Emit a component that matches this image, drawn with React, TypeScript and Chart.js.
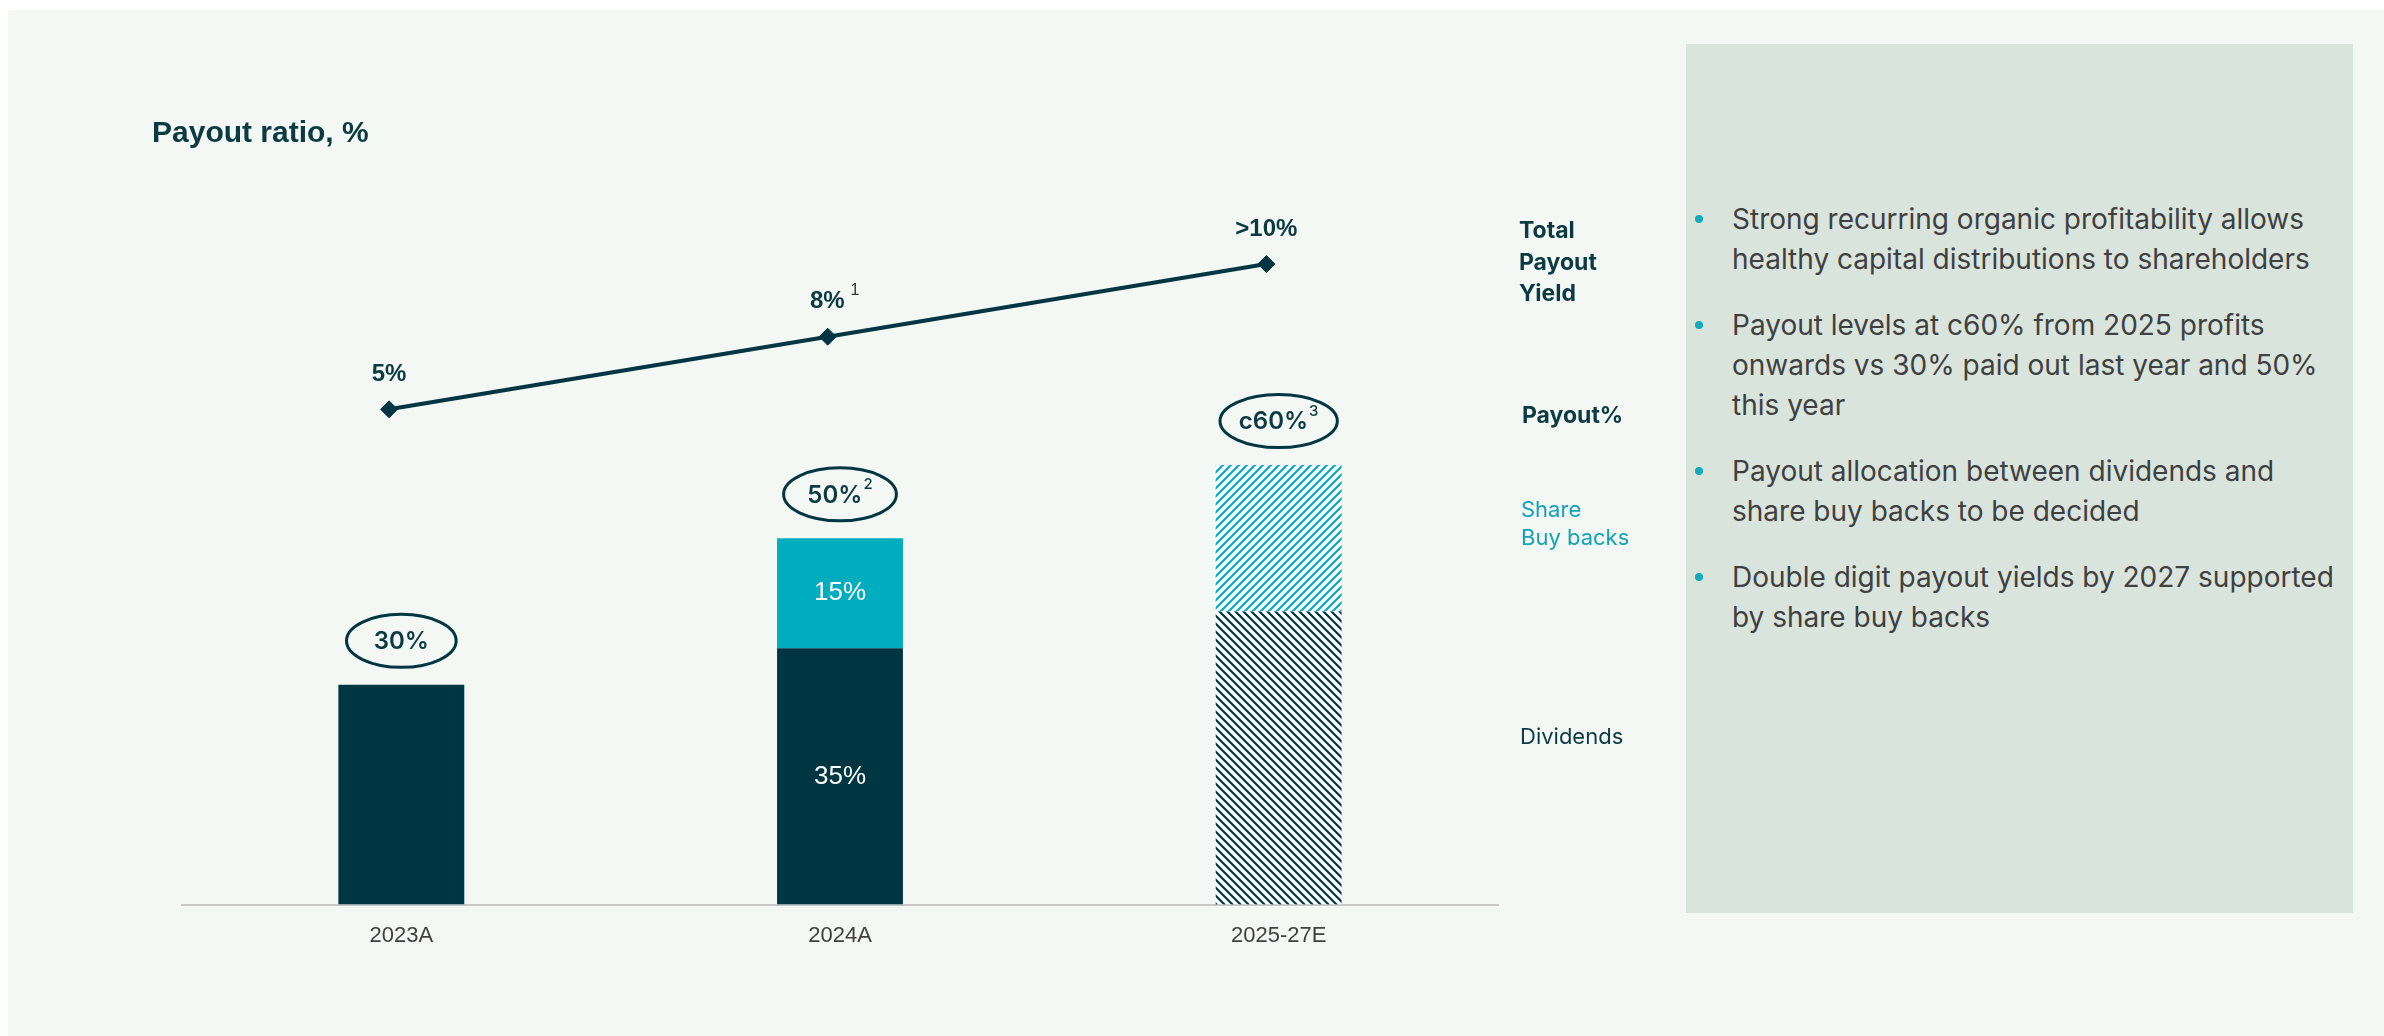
import React, { useEffect, useRef } from "react";
import { Chart, registerables } from "chart.js";

Chart.register(...registerables);

// ---------- data ----------
const categories = ["2023A", "2024A", "2025-27E"];
const dividends = [30, 35, 40];
const buyBacks: (number | null)[] = [null, 15, 20];
const hatched = [false, false, true];
const dividendLabels = ["", "35%", ""];
const buyBackLabels = ["", "15%", ""];
const payoutTotalLabels = ["30%", "50%", "c60%"];
const payoutNotes = ["", "2", "3"];
const yieldValues = [5, 8, 11];
const yieldLabels = ["5%", "8%", ">10%"];
const yieldNotes = ["", "1", ""];
const bulletPoints = [
  ["Strong recurring organic profitability allows", "healthy capital distributions to shareholders"],
  ["Payout levels at c60% from 2025 profits", "onwards vs 30% paid out last year and 50%", "this year"],
  ["Payout allocation between dividends and", "share buy backs to be decided"],
  ["Double digit payout yields by 2027 supported", "by share buy backs"],
];

// ---------- styles ----------
const DARK = "#003641";
const TEAL = "#00adbf";
const TEXT_DARK = "#0b3a42";
const PAGE_BG = "#f3f8f5";
const PANEL_BG = "#d9e4dc";
const SANS = "'Liberation Sans', Arial, sans-serif";
const UI = "Inter, 'Noto Sans', sans-serif";

function makeHatch(color: string, dir: number) {
  const s = 8;
  const c = document.createElement("canvas");
  c.width = s;
  c.height = s;
  const g = c.getContext("2d")!;
  g.fillStyle = "#ffffff";
  g.fillRect(0, 0, s, s);
  g.strokeStyle = color;
  g.lineWidth = 2.2;
  g.beginPath();
  if (dir > 0) {
    g.moveTo(-2, s + 2); g.lineTo(s + 2, -2);
    g.moveTo(-2, 2); g.lineTo(2, -2);
    g.moveTo(s - 2, s + 2); g.lineTo(s + 2, s - 2);
  } else {
    g.moveTo(-2, -2); g.lineTo(s + 2, s + 2);
    g.moveTo(-2, s - 2); g.lineTo(2, s + 2);
    g.moveTo(s - 2, -2); g.lineTo(s + 2, 2);
  }
  g.stroke();
  return g.createPattern(c, "repeat")!;
}

function drawWithSup(ctx: CanvasRenderingContext2D, main: string, sup: string, cx: number, cy: number, mainFont: string, supFont: string, color: string, supColor: string, gap: number) {
  ctx.font = mainFont;
  const mw = ctx.measureText(main).width;
  ctx.font = supFont;
  const sw = sup ? ctx.measureText(sup).width + gap : 0;
  const left = cx - (mw + sw) / 2;
  ctx.textAlign = "left";
  ctx.textBaseline = "middle";
  ctx.font = mainFont;
  ctx.fillStyle = color;
  ctx.fillText(main, left, cy);
  if (sup) {
    ctx.font = supFont;
    ctx.fillStyle = supColor;
    ctx.fillText(sup, left + mw + gap, cy - 11);
  }
}

const overlayPlugin = {
  id: "overlay",
  afterDatasetsDraw(chart: any) {
    const ctx: CanvasRenderingContext2D = chart.ctx;
    const xs = chart.scales.x;
    const ys = chart.scales.y;
    ctx.save();
    // labels inside bars
    [0, 1].forEach((di) => {
      const meta = chart.getDatasetMeta(di);
      const labels = di === 0 ? dividendLabels : buyBackLabels;
      meta.data.forEach((el: any, i: number) => {
        if (!labels[i]) return;
        const p = el.getProps(["x", "y", "base"], true);
        ctx.font = `26px ${SANS}`;
        ctx.fillStyle = "#ffffff";
        ctx.textAlign = "center";
        ctx.textBaseline = "middle";
        ctx.fillText(labels[i], p.x, (p.y + p.base) / 2);
      });
    });
    // ellipse totals
    categories.forEach((_, i) => {
      const total = dividends[i] + (buyBacks[i] ?? 0);
      const cx = xs.getPixelForValue(i);
      const cy = ys.getPixelForValue(total) - 44;
      ctx.font = `600 24px ${UI}`;
      const w = ctx.measureText(payoutTotalLabels[i]).width + (payoutNotes[i] ? 10 : 0);
      const rx = 46 + w * 0.16;
      ctx.beginPath();
      ctx.ellipse(cx, cy, rx, 26.5, 0, 0, Math.PI * 2);
      ctx.lineWidth = 3;
      ctx.strokeStyle = DARK;
      ctx.stroke();
      drawWithSup(ctx, payoutTotalLabels[i], payoutNotes[i], cx, cy + 1, `600 24px ${UI}`, `500 15px ${UI}`, TEXT_DARK, TEXT_DARK, 1);
    });
    // yield labels
    const lm = chart.getDatasetMeta(2);
    lm.data.forEach((pt: any, i: number) => {
      const p = pt.getProps(["x", "y"], true);
      drawWithSup(ctx, yieldLabels[i], yieldNotes[i], p.x + (yieldNotes[i] ? 7 : 0), p.y - 35, `bold 24px ${SANS}`, `16px ${SANS}`, TEXT_DARK, "#333333", 6);
    });
    ctx.restore();
  },
};

function PayoutChart() {
  const ref = useRef<HTMLCanvasElement | null>(null);
  useEffect(() => {
    const canvas = ref.current!;
    const hatchTeal = makeHatch(TEAL, 1);
    const hatchDark = makeHatch(DARK, -1);
    const chart = new Chart(canvas, {
      type: "bar",
      data: {
        labels: categories,
        datasets: [
          {
            type: "bar",
            label: "Dividends",
            data: dividends,
            backgroundColor: hatched.map((h) => (h ? hatchDark : DARK)) as any,
            barPercentage: 0.287,
            categoryPercentage: 1,
            stack: "payout",
            grouped: false,
            order: 2,
          } as any,
          {
            type: "bar",
            label: "Share Buy backs",
            data: buyBacks as any,
            backgroundColor: hatched.map((h) => (h ? hatchTeal : TEAL)) as any,
            barPercentage: 0.287,
            categoryPercentage: 1,
            stack: "payout",
            grouped: false,
            order: 2,
          } as any,
          {
            type: "line",
            label: "Total Payout Yield",
            data: yieldValues.map((v, i) => ({ x: i, y: v })) as any,
            xAxisID: "xl",
            yAxisID: "y1",
            borderColor: DARK,
            borderWidth: 4,
            pointStyle: "rectRot",
            pointRadius: 8.5,
            pointBackgroundColor: DARK,
            pointBorderColor: DARK,
            pointBorderWidth: 1,
            clip: false as any,
            order: 0,
          } as any,
        ],
      },
      options: {
        animation: false,
        responsive: true,
        maintainAspectRatio: false,
        layout: { padding: { left: 182, right: 162, top: 172, bottom: 77 } },
        plugins: { legend: { display: false }, tooltip: { enabled: false } },
        scales: {
          x: {
            type: "category",
            stacked: true,
            offset: true,
            grid: { display: false },
            border: { display: true, color: "#c8c8c8", width: 2 },
            ticks: { color: "#404040", font: { family: SANS, size: 22 }, padding: 10 },
          },
          xl: { type: "linear", axis: "x", display: false, offset: false, min: -0.472, max: 2.528, grid: { offset: false } } as any,
          y: { stacked: true, display: false, min: 0, max: 100 },
          y1: { type: "linear", display: false, beginAtZero: false, min: -15.45, max: 14.8 },
        },
      },
      plugins: [overlayPlugin],
    });
    return () => chart.destroy();
  }, []);
  return <canvas ref={ref} />;
}

export default function App() {
  const label = (text: string, left: number, cy: number, style: React.CSSProperties) => (
    <div style={{ position: "absolute", left, top: cy - 16, height: 32, lineHeight: "32px", whiteSpace: "nowrap", ...style }}>{text}</div>
  );
  const bold: React.CSSProperties = { fontFamily: UI, fontWeight: 700, fontSize: 23, color: TEXT_DARK };
  return (
    <div style={{ position: "absolute", left: 0, top: 0, width: 2384, height: 1036, background: "#ffffff", overflow: "hidden" }}>
      <div style={{ position: "absolute", left: 8, top: 10, right: 0, bottom: 0, background: PAGE_BG }} />
      <div style={{ position: "absolute", left: 1686, top: 44, width: 667, height: 869, background: PANEL_BG }} />
      <div style={{ position: "absolute", left: 0, top: 0, width: 1660, height: 1036 }}>
        <PayoutChart />
      </div>
      {label("Payout ratio, %", 152, 132, { fontFamily: SANS, fontWeight: 700, fontSize: 30, color: TEXT_DARK })}
      {label("Total", 1519, 230, bold)}
      {label("Payout", 1519, 262, bold)}
      {label("Yield", 1519, 293, bold)}
      {label("Payout%", 1522, 415, bold)}
      {label("Share", 1521, 509, { fontFamily: UI, fontSize: 22, color: "#13a3b5" })}
      {label("Buy backs", 1521, 537, { fontFamily: UI, fontSize: 22, color: "#13a3b5" })}
      {label("Dividends", 1520, 736, { fontFamily: UI, fontSize: 22, color: TEXT_DARK })}
      <div style={{ position: "absolute", left: 1690, top: 199, fontFamily: UI, fontSize: 28, color: "#3f4040" }}>
        {bulletPoints.map((lines, i) => (
          <div key={i} style={{ position: "relative", marginBottom: 26, paddingLeft: 42 }}>
            <div style={{ position: "absolute", left: 5, top: 16, width: 8, height: 8, borderRadius: 4, background: "#17a9bd" }} />
            {lines.map((ln, j) => (
              <div key={j} style={{ lineHeight: "40px", whiteSpace: "nowrap" }}>{ln}</div>
            ))}
          </div>
        ))}
      </div>
    </div>
  );
}
